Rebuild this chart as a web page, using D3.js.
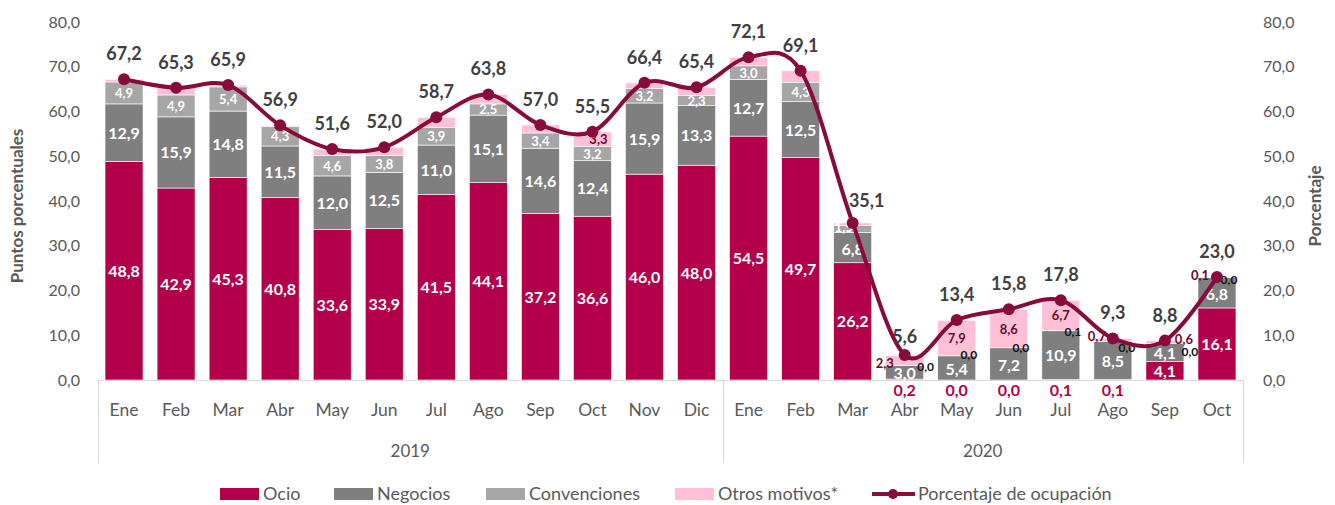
<!DOCTYPE html>
<html><head><meta charset="utf-8">
<script src="https://cdn.jsdelivr.net/npm/d3@7"></script>
<style>
html,body{margin:0;padding:0;background:#fff;}
svg{display:block;font-family:Lato,"Open Sans",sans-serif;}
</style></head>
<body><svg id="chart" width="1335" height="505"></svg>
<script>
// ---------- DATA ----------
const months = ["Ene","Feb","Mar","Abr","May","Jun","Jul","Ago","Sep","Oct","Nov","Dic",
                "Ene","Feb","Mar","Abr","May","Jun","Jul","Ago","Sep","Oct"];
const years = ["2019","2020"];
const yearCounts = [12,10];
const ocio =         [48.8,42.9,45.3,40.8,33.6,33.9,41.5,44.1,37.2,36.6,46.0,48.0,54.5,49.7,26.2,0.2,0.0,0.0,0.1,0.1,4.1,16.1];
const negocios =     [12.9,15.9,14.8,11.5,12.0,12.5,11.0,15.1,14.6,12.4,15.9,13.3,12.7,12.5,6.8,3.0,5.4,7.2,10.9,8.5,4.1,6.8];
const convenciones = [4.9,4.9,5.4,4.3,4.6,3.8,3.9,2.5,3.4,3.2,3.2,2.3,3.0,4.3,1.5,0.0,0.0,0.0,0.1,0.0,0.0,0.0];
const otros =        [0.6,1.6,0.4,0.3,1.4,1.8,2.3,2.1,1.8,3.3,1.3,1.8,1.9,2.6,0.6,2.3,7.9,8.6,6.7,0.7,0.6,0.1];
const ocupacion =    [67.2,65.3,65.9,56.9,51.6,52.0,58.7,63.8,57.0,55.5,66.4,65.4,72.1,69.1,35.1,5.6,13.4,15.8,17.8,9.3,8.8,23.0];
const otrosLabelShown = [false,false,false,false,false,false,false,false,false,true,false,false,
                         false,false,false,true,true,true,true,true,true,true];
const yTicks = [0,10,20,30,40,50,60,70,80];
const seriesNames = ["Ocio","Negocios","Convenciones","Otros motivos*"];
const lineName = "Porcentaje de ocupación";
const leftTitle = "Puntos porcentuales";
const rightTitle = "Porcentaje";

// ---------- STYLE ----------
const colors = ["#b4004a","#7f7f7f","#a6a6a6","#ffbfd6"];
const lineColor = "#880b3b";
const axisText = "#595959";
const fmt = v => v.toFixed(1).replace(".", ",");

const svg = d3.select("#chart");
const L = 98, R = 1243, T = 22, B = 380;
const idx = d3.range(months.length);
const x = d3.scaleBand().domain(idx).range([L, R]).paddingInner(0.27).paddingOuter(0.135);
const y = d3.scaleLinear().domain([0, 80]).range([B, T]);
const yR = d3.scaleLinear().domain([0, 80]).range([B, T]);
const cx = i => x(i) + x.bandwidth() / 2;

// stacked data
const table = idx.map(i => ({i, Ocio: ocio[i], Negocios: negocios[i], Convenciones: convenciones[i], Otros: otros[i]}));
const keys = ["Ocio","Negocios","Convenciones","Otros"];
const stacked = d3.stack().keys(keys)(table);

// bars
stacked.forEach((s, k) => {
  svg.append("g").selectAll("rect").data(s).join("rect")
    .attr("x", d => x(d.data.i))
    .attr("width", x.bandwidth())
    .attr("y", d => y(d[1]))
    .attr("height", d => Math.max(0, y(d[0]) - y(d[1])))
    .attr("fill", colors[k])
    .attr("stroke", "#fff").attr("stroke-width", 0.6);
});

// axis frame (category box)
const frame = svg.append("g").attr("stroke", "#d9d9d9").attr("stroke-width", 1);
frame.append("line").attr("x1", L).attr("x2", R).attr("y1", B + 0.5).attr("y2", B + 0.5);
let acc = 0;
const seps = [0];
yearCounts.forEach(c => { acc += c; seps.push(acc); });
seps.forEach(s => {
  const xx = s === 0 ? L : (s === months.length ? R : (x(s - 1) + x(s) + x.bandwidth()) / 2);
  frame.append("line").attr("x1", Math.round(xx) + 0.5).attr("x2", Math.round(xx) + 0.5).attr("y1", B).attr("y2", 463);
});

// y axes
const axL = svg.append("g").attr("transform", `translate(${L},0)`)
  .call(d3.axisLeft(y).tickValues(yTicks).tickFormat(fmt).tickSize(0).tickPadding(18));
axL.select(".domain").remove();
axL.selectAll("text").attr("fill", axisText).style("font-size", "16px").style("font-family", "Lato");
const axR = svg.append("g").attr("transform", `translate(${R},0)`)
  .call(d3.axisRight(yR).tickValues(yTicks).tickFormat(fmt).tickSize(0).tickPadding(20));
axR.select(".domain").remove();
axR.selectAll("text").attr("fill", axisText).style("font-size", "16px").style("font-family", "Lato");

// x axis month labels
const axB = svg.append("g").attr("transform", `translate(0,${B})`)
  .call(d3.axisBottom(x).tickFormat(i => months[i]).tickSize(0).tickPadding(24));
axB.select(".domain").remove();
axB.selectAll("text").attr("fill", axisText).style("font-size", "17.5px").style("font-family", "Lato");

// year labels
let start = 0;
years.forEach((yr, k) => {
  const a = start === 0 ? L : (x(start - 1) + x(start) + x.bandwidth()) / 2;
  const endI = start + yearCounts[k];
  const b = endI === months.length ? R : (x(endI - 1) + x(endI) + x.bandwidth()) / 2;
  svg.append("text").attr("x", (a + b) / 2).attr("y", 457).attr("text-anchor", "middle")
    .attr("fill", axisText).style("font-size", "17px").text(yr);
  start = endI;
});

// axis titles
svg.append("text").attr("transform", `translate(23,${(T + B) / 2 + 5}) rotate(-90)`)
  .attr("text-anchor", "middle").attr("fill", axisText).style("font-size", "17px").style("font-weight", "bold").text(leftTitle);
svg.append("text").attr("transform", `translate(1321,${(T + B) / 2 + 5}) rotate(-90)`)
  .attr("text-anchor", "middle").attr("fill", axisText).style("font-size", "17px").style("font-weight", "bold").text(rightTitle);

// segment labels
const lab = svg.append("g").style("font-weight", "bold");
const convDx = {15: 21, 19: 14, 20: 25};
const convDy = {15: 5, 16: 3, 17: 4, 18: 6, 19: 10, 20: 13, 21: 6};
const otrosDx = {15: -20, 19: -16, 20: 19, 21: -17};
idx.forEach(i => {
  const base = ocio[i], nTop = base + negocios[i], cTop = nTop + convenciones[i], oTop = cTop + otros[i];
  // Ocio
  if (y(0) - y(ocio[i]) >= 14) {
    lab.append("text").attr("x", cx(i)).attr("y", y(base / 2) + 6).attr("text-anchor", "middle")
      .attr("fill", "#fff").style("font-size", "16px").text(fmt(ocio[i]));
  } else {
    lab.append("text").attr("x", cx(i)).attr("y", B + 16).attr("text-anchor", "middle")
      .attr("fill", colors[0]).style("font-size", "16px").text(fmt(ocio[i]));
  }
  // Negocios
  const nSmall = negocios[i] < 8 && i >= 14;
  lab.append("text").attr("x", cx(i)).attr("y", y(base + negocios[i] / 2) + (nSmall ? 7 : 6)).attr("text-anchor", "middle")
    .attr("fill", "#fff").style("font-size", "16px").text(fmt(negocios[i]));
  // Convenciones
  if (convenciones[i] >= 1) {
    const small = convenciones[i] < 2;
    lab.append("text").attr("x", cx(i) + (small ? -9 : 0)).attr("y", y(nTop + convenciones[i] / 2) + (small ? 3 : 5))
      .attr("text-anchor", "middle").attr("fill", "#fff").style("font-size", "13px").text(fmt(convenciones[i]));
  } else {
    lab.append("text").attr("x", cx(i) + (convDx[i] ?? 12)).attr("y", y(cTop) + (convDy[i] ?? 5)).attr("text-anchor", "middle")
      .attr("fill", "#111").style("font-size", "12px").text(fmt(convenciones[i]));
  }
  // Otros
  if (otrosLabelShown[i]) {
    const big = otros[i] >= 3;
    const dx = big ? (i === 9 ? 6 : 0) : (otrosDx[i] ?? 0);
    const yy = big ? y(cTop + otros[i] / 2) + 5 : ({15: y(cTop + otros[i] / 2) + 7, 21: y(oTop) + 3}[i] ?? y(oTop) + 3);
    lab.append("text").attr("x", cx(i) + dx).attr("y", yy).attr("text-anchor", "middle")
      .attr("fill", "#6b0a2e").style("font-size", "13px").text(fmt(otros[i]));
  }
});

// occupancy line
const line = d3.line().x(i => cx(i)).y(i => yR(ocupacion[i])).curve(d3.curveCardinal.tension(0));
svg.append("path").datum(idx).attr("d", line).attr("fill", "none")
  .attr("stroke", lineColor).attr("stroke-width", 4).attr("stroke-linejoin", "round");
svg.append("g").selectAll("circle").data(idx).join("circle")
  .attr("cx", cx).attr("cy", i => yR(ocupacion[i])).attr("r", 6).attr("fill", lineColor);

// occupancy labels
svg.append("g").selectAll("text").data(idx).join("text")
  .attr("x", i => cx(i) + (i === 14 ? 14 : 0))
  .attr("y", i => yR(ocupacion[i]) - (i === 14 ? 16 : (i === 15 ? 12 : 19)))
  .attr("text-anchor", "middle").attr("fill", "#404040")
  .style("font-size", "18px").style("font-weight", "bold").text(i => fmt(ocupacion[i]));

// legend
const leg = svg.append("g").attr("transform", "translate(0,494)");
const legX = [220, 334, 486, 675];
seriesNames.forEach((n, k) => {
  leg.append("rect").attr("x", legX[k]).attr("y", -6).attr("width", 39).attr("height", 12).attr("fill", colors[k]);
  leg.append("text").attr("x", legX[k] + 43).attr("y", 6).attr("fill", axisText).style("font-size", "18px").text(n);
});
leg.append("line").attr("x1", 872).attr("x2", 915).attr("y1", 0).attr("y2", 0).attr("stroke", lineColor).attr("stroke-width", 4);
leg.append("circle").attr("cx", 893).attr("cy", 0).attr("r", 5).attr("fill", lineColor);
leg.append("text").attr("x", 918).attr("y", 6).attr("fill", axisText).style("font-size", "18px").text(lineName);
</script></body></html>
